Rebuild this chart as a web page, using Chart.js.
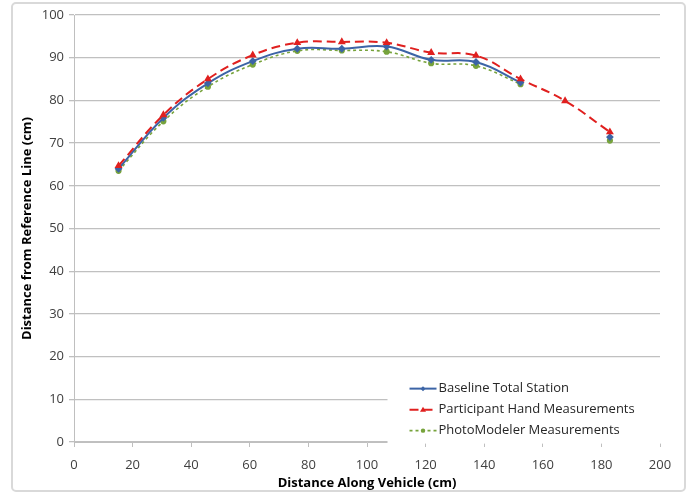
<!DOCTYPE html>
<html><head><meta charset="utf-8">
<script src="https://cdn.jsdelivr.net/npm/chart.js@4"></script>
<style>html,body{margin:0;padding:0;background:#fff}#wrap{width:689px;height:495px;position:relative}</style>
</head><body><div id="wrap"><canvas id="c" width="689" height="495"></canvas></div>
<script>
const xPositions = [15.2, 30.5, 45.7, 61.0, 76.2, 91.4, 106.7, 121.9, 137.2, 152.4, 167.6, 182.9];
const baseline   = [64.0, 75.9, 84.0, 89.2, 92.1, 92.1, 92.6, 89.5, 89.0, 84.2, null, 71.4];
const handMeas   = [64.7, 76.6, 85.0, 90.6, 93.5, 93.7, 93.5, 91.2, 90.5, 85.0, 79.9, 72.6];
const photoMeas  = [63.5, 75.1, 83.2, 88.4, 91.6, 91.7, 91.4, 88.7, 88.1, 83.8, null, 70.6];
const seriesNames = ['Baseline Total Station', 'Participant Hand Measurements', 'PhotoModeler Measurements'];
const xTicks = [0, 20, 40, 60, 80, 100, 120, 140, 160, 180, 200];
const yTicks = [0, 10, 20, 30, 40, 50, 60, 70, 80, 90, 100];

const toPts = arr => xPositions.map((x, i) => ({x: x, y: arr[i]}));
const FONT = "'Open Sans', 'Noto Sans', sans-serif";

const borderPlugin = {
  id: 'outerBorder',
  beforeDraw(chart) {
    const ctx = chart.ctx;
    ctx.save();
    ctx.strokeStyle = '#d9d9d9';
    ctx.lineWidth = 2;
    ctx.beginPath();
    if (ctx.roundRect) ctx.roundRect(12, 3, 673, 488, 4); else ctx.rect(12, 3, 673, 488);
    ctx.stroke();
    ctx.restore();
  }
};

const legendPlugin = {
  id: 'insideLegend',
  afterDatasetsDraw(chart) {
    const ctx = chart.ctx;
    const area = chart.chartArea;
    const x0 = chart.scales.x.getPixelForValue(107);
    const rowH = 21;
    const yFirst = chart.scales.y.getPixelForValue(12.5);
    ctx.save();
    ctx.fillStyle = '#ffffff';
    ctx.fillRect(x0, yFirst - 12, area.right - x0 + 1, rowH * 3 + 4);
    chart.data.datasets.forEach((ds, i) => {
      const y = yFirst + i * rowH;
      const lx0 = x0 + 22, lx1 = x0 + 49;
      ctx.strokeStyle = ds.borderColor;
      ctx.lineWidth = ds.borderWidth;
      ctx.setLineDash(ds.borderDash || []);
      ctx.beginPath(); ctx.moveTo(lx0, y); ctx.lineTo(lx1, y); ctx.stroke();
      ctx.setLineDash([]);
      const mx = (lx0 + lx1) / 2;
      ctx.fillStyle = ds.pointBackgroundColor;
      ctx.beginPath();
      if (ds.pointStyle === 'triangle') { ctx.moveTo(mx, y - 3); ctx.lineTo(mx + 3, y + 2); ctx.lineTo(mx - 3, y + 2); }
      else if (ds.pointStyle === 'rectRot') { ctx.moveTo(mx, y - 2.5); ctx.lineTo(mx + 2.5, y); ctx.lineTo(mx, y + 2.5); ctx.lineTo(mx - 2.5, y); }
      else { ctx.arc(mx, y, 2.2, 0, Math.PI * 2); }
      ctx.closePath(); ctx.fill();
      ctx.fillStyle = '#262626';
      ctx.font = '13px ' + FONT;
      ctx.textBaseline = 'middle';
      ctx.textAlign = 'left';
      ctx.fillText(seriesNames[i], lx1 + 2, y);
    });
    ctx.restore();
  }
};

new Chart(document.getElementById('c'), {
  type: 'line',
  data: {
    datasets: [
      { label: seriesNames[0], data: toPts(baseline), borderColor: '#3c64a6', backgroundColor: '#3c64a6',
        pointBackgroundColor: '#3c64a6', pointBorderColor: '#3c64a6', borderWidth: 2, pointStyle: 'rectRot', pointRadius: 2.5,
        tension: 0.4, spanGaps: false, order: 1 },
      { label: seriesNames[1], data: toPts(handMeas), borderColor: '#e0201f', backgroundColor: '#e0201f',
        pointBackgroundColor: '#e0201f', pointBorderColor: '#e0201f', borderWidth: 2, borderDash: [9, 5], pointStyle: 'triangle', pointRadius: 2.6,
        tension: 0.4, spanGaps: false, order: 0 },
      { label: seriesNames[2], data: toPts(photoMeas), borderColor: '#77a33c', backgroundColor: '#77a33c',
        pointBackgroundColor: '#77a33c', pointBorderColor: '#77a33c', borderWidth: 1.6, borderDash: [3, 3], pointStyle: 'circle', pointRadius: 2.3,
        tension: 0.4, spanGaps: false, order: 2 }
    ]
  },
  options: {
    responsive: false,
    animation: false,
    devicePixelRatio: 1,
    layout: { padding: { left: 19, right: 29, top: 15, bottom: 4 } },
    plugins: { legend: { display: false }, tooltip: { enabled: false } },
    scales: {
      x: {
        type: 'linear', min: 0, max: 200,
        afterBuildTicks: s => { s.ticks = xTicks.map(v => ({value: v})); },
        afterFit: s => { s.height = 49; },
        grid: { display: true, drawOnChartArea: false, drawTicks: true, tickLength: 5, color: '#bfbfbf' },
        border: { color: '#bfbfbf', width: 1 },
        ticks: { color: '#404040', font: { family: FONT, size: 13 }, padding: 10, maxRotation: 0 },
        title: { display: true, text: 'Distance Along Vehicle (cm)', color: '#000', font: { family: FONT, size: 13, weight: 'bold' }, padding: { top: 0, bottom: 0 } }
      },
      y: {
        min: 0, max: 100,
        afterBuildTicks: s => { s.ticks = yTicks.map(v => ({value: v})); },
        afterFit: s => { s.width = 55; },
        grid: { color: '#c0c0c0', lineWidth: 1.3, tickLength: 5, tickColor: '#bfbfbf' },
        border: { color: '#bfbfbf', width: 1 },
        ticks: { color: '#404040', font: { family: FONT, size: 13 }, padding: 5 },
        title: { display: true, text: 'Distance from Reference Line (cm)', color: '#000', font: { family: FONT, size: 13, weight: 'bold' }, padding: { top: 0, bottom: 0 } }
      }
    }
  },
  plugins: [borderPlugin, legendPlugin]
});
</script></body></html>
